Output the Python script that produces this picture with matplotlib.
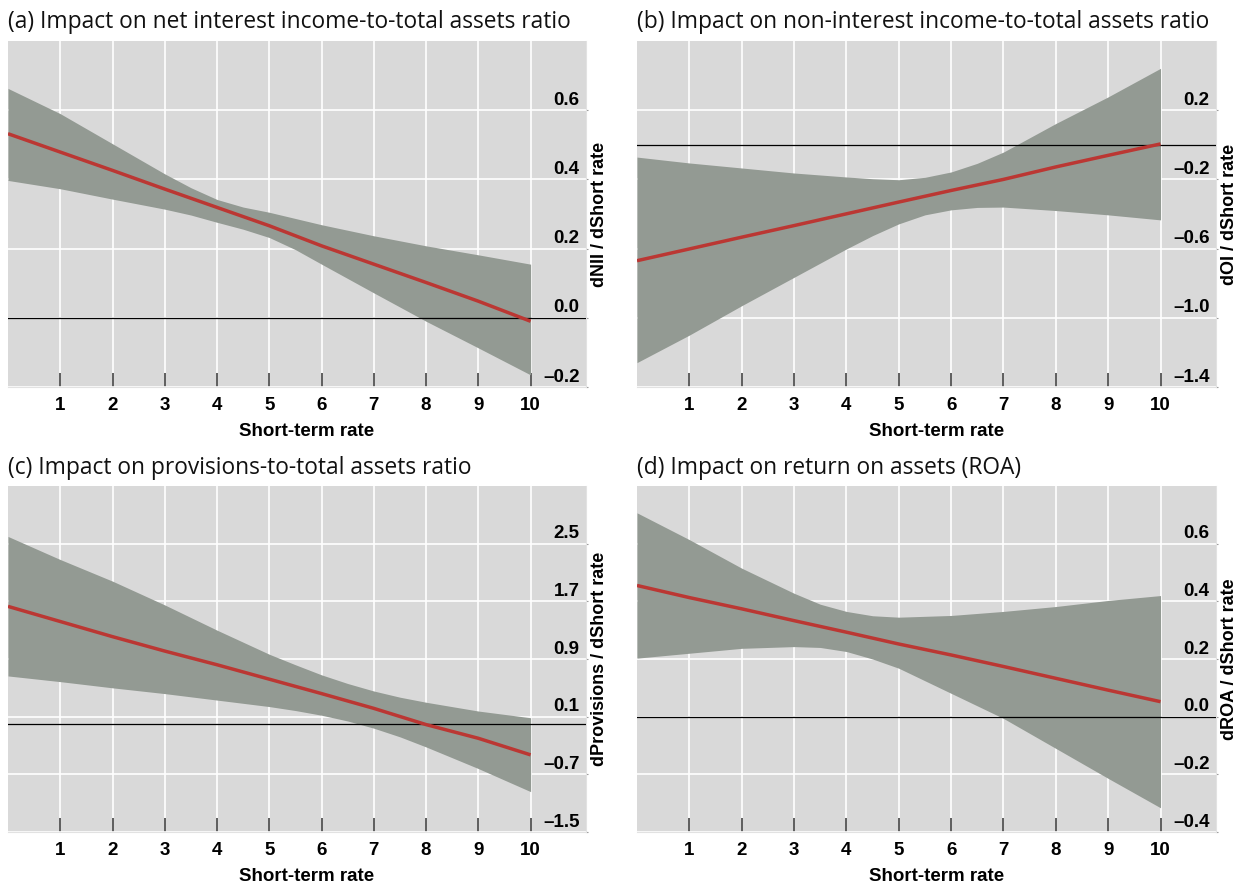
import matplotlib
matplotlib.use("Agg")
import matplotlib.pyplot as plt
from matplotlib import transforms

# ---------------- data ----------------
short_rate = [0, 1, 2, 3, 4, 5, 6, 7, 8, 9, 10]
x_ticks = [1, 2, 3, 4, 5, 6, 7, 8, 9, 10]

# (a) net interest income
nii_mean = [0.532, 0.479, 0.426, 0.372, 0.319, 0.266, 0.208, 0.155, 0.102, 0.048, -0.010]
nii_band_x = [0, 1, 2, 3, 3.5, 4, 4.5, 5, 5.5, 6, 7, 8, 9, 10]
nii_upper = [0.663, 0.590, 0.503, 0.416, 0.376, 0.342, 0.320, 0.305, 0.287, 0.269, 0.237, 0.208, 0.182, 0.155]
nii_lower = [0.397, 0.373, 0.343, 0.314, 0.297, 0.276, 0.256, 0.232, 0.197, 0.155, 0.072, -0.010, -0.087, -0.165]
nii_yticks = [-0.2, 0.0, 0.2, 0.4, 0.6]
nii_ylim = (-0.2, 0.8)

# (b) non-interest income
oi_mean = [-0.670, -0.602, -0.534, -0.467, -0.399, -0.331, -0.264, -0.200, -0.128, -0.061, 0.005]
oi_band_x = [0, 1, 2, 3, 4, 4.5, 5, 5.5, 6, 6.5, 7, 8, 9, 10]
oi_upper = [-0.071, -0.105, -0.134, -0.163, -0.186, -0.196, -0.202, -0.188, -0.157, -0.107, -0.042, 0.123, 0.277, 0.442]
oi_lower = [-1.259, -1.100, -0.930, -0.766, -0.602, -0.525, -0.457, -0.405, -0.376, -0.362, -0.360, -0.380, -0.405, -0.434]
oi_yticks = [-1.4, -1.0, -0.6, -0.2, 0.2]
oi_ylim = (-1.4, 0.6)

# (c) provisions
prov_mean = [1.63, 1.42, 1.21, 1.01, 0.82, 0.62, 0.42, 0.215, -0.01, -0.20, -0.43]
prov_band_x = [0, 1, 2, 3, 4, 5, 5.5, 6, 6.5, 7, 7.5, 8, 9, 10]
prov_upper = [2.60, 2.28, 1.98, 1.65, 1.30, 0.966, 0.82, 0.68, 0.56, 0.456, 0.37, 0.30, 0.178, 0.085]
prov_lower = [0.665, 0.586, 0.50, 0.42, 0.33, 0.24, 0.185, 0.12, 0.04, -0.06, -0.18, -0.32, -0.62, -0.94]
prov_yticks = [-1.5, -0.7, 0.1, 0.9, 1.7, 2.5]
prov_ylim = (-1.5, 3.3)

# (d) return on assets
roa_mean = [0.455, 0.413, 0.374, 0.333, 0.293, 0.252, 0.214, 0.174, 0.133, 0.092, 0.052]
roa_band_x = [0, 1, 2, 3, 3.5, 4, 4.5, 5, 6, 7, 8, 9, 10]
roa_upper = [0.707, 0.614, 0.515, 0.428, 0.390, 0.365, 0.350, 0.345, 0.351, 0.365, 0.382, 0.403, 0.420]
roa_lower = [0.203, 0.220, 0.237, 0.243, 0.240, 0.226, 0.200, 0.168, 0.081, -0.006, -0.110, -0.214, -0.316]
roa_yticks = [-0.4, -0.2, 0.0, 0.2, 0.4, 0.6]
roa_ylim = (-0.4, 0.8)

titles = [
    "(a) Impact on net interest income-to-total assets ratio",
    "(b) Impact on non-interest income-to-total assets ratio",
    "(c) Impact on provisions-to-total assets ratio",
    "(d) Impact on return on assets (ROA)",
]
ylabels = [
    "dNII / dShort rate",
    "dOI / dShort rate",
    "dProvisions / dShort rate",
    "dROA / dShort rate",
]
xlabel = "Short-term rate"

# ---------------- style ----------------
BG = "#d9d9d9"
BAND = "#939a93"
RED = "#bb3733"
LABEL_FONT = "Liberation Sans"
TITLE_FONT = "Open Sans"

W, H = 1238, 885
fig = plt.figure(figsize=(W / 100, H / 100), dpi=100)
fig.patch.set_facecolor("white")

# pixel boxes: left, right, top, bottom
boxes = [(8, 586, 41, 387), (637, 1216, 41, 387), (8, 586, 486, 832), (637, 1216, 486, 832)]

panels = [
    (nii_mean, nii_band_x, nii_lower, nii_upper, nii_yticks, nii_ylim),
    (oi_mean, oi_band_x, oi_lower, oi_upper, oi_yticks, oi_ylim),
    (prov_mean, prov_band_x, prov_lower, prov_upper, prov_yticks, prov_ylim),
    (roa_mean, roa_band_x, roa_lower, roa_upper, roa_yticks, roa_ylim),
]


def fmt(v, nd=1):
    s = f"{abs(v):.{nd}f}"
    return ("\u2013" + s) if v < -1e-9 else s


for i, (box, (mean, bx, lo, up, yt, yl)) in enumerate(zip(boxes, panels)):
    l, r, t, b = box
    ax = fig.add_axes([l / W, 1 - b / H, (r - l) / W, (b - t) / H])
    ax.set_facecolor(BG)
    ax.set_xlim(0, 11.06)
    ax.set_ylim(*yl)
    ax.set_axisbelow(True)

    ax.set_xticks(x_ticks)
    ax.set_xticklabels([str(v) for v in x_ticks], fontfamily=LABEL_FONT,
                       fontweight="bold", fontsize=13.5)
    ax.tick_params(axis="x", direction="in", length=10, width=1.1,
                   color="#333333", pad=7)
    ax.set_yticks(yt)
    ax.yaxis.tick_right()
    ax.tick_params(axis="y", direction="out", length=1.5, width=0.8,
                   color="#999999", labelright=False, labelleft=False)
    ax.grid(True, color="white", linewidth=1.2)

    for side in ("left", "top"):
        ax.spines[side].set_visible(False)
    for side in ("right", "bottom"):
        ax.spines[side].set_color("#e2e2e2")
        ax.spines[side].set_linewidth(0.8)

    ax.fill_between(bx, lo, up, color=BAND, linewidth=0, zorder=2)
    ax.axhline(0, color="black", linewidth=0.9, zorder=3)
    ax.plot(short_rate, mean, color=RED, linewidth=2.5, zorder=4,
            solid_capstyle="butt")

    # y tick labels drawn inside the plot area, just above the gridlines
    trans = transforms.offset_copy(ax.get_yaxis_transform(), fig=fig,
                                   x=0, y=1.0, units="points")
    for v in yt:
        ax.text(0.989, v, fmt(v), transform=trans, ha="right", va="bottom",
                fontfamily=LABEL_FONT, fontweight="bold", fontsize=13.5,
                zorder=5)

    ax.set_title(titles[i], loc="left", fontfamily=TITLE_FONT, fontsize=16.4,
                 pad=9, color="#111111")

    ax.set_xlabel(xlabel, fontfamily=LABEL_FONT, fontweight="bold",
                  fontsize=13.5)
    ax.xaxis.set_label_coords(0.517, -0.104)

    ax.yaxis.set_label_position("right")
    ax.set_ylabel(ylabels[i], fontfamily=LABEL_FONT, fontweight="bold",
                  fontsize=13, rotation=90)
    ax.yaxis.set_label_coords(1.009, 0.5)

fig.savefig("out.png", dpi=100, facecolor="white")
